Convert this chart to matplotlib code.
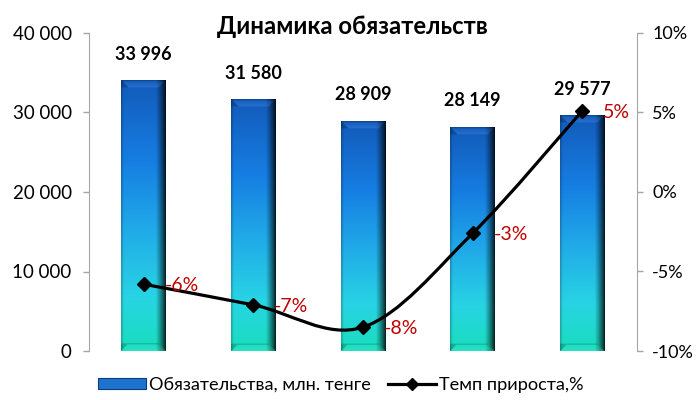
import numpy as np
import matplotlib
matplotlib.use("Agg")
import matplotlib.pyplot as plt
from matplotlib.path import Path
from matplotlib.patches import PathPatch, Patch
from matplotlib.lines import Line2D

plt.rcParams['font.family'] = ['Lato', 'DejaVu Sans']

title = "Динамика обязательств"
categories = ["1", "2", "3", "4", "5"]
liabilities = [33996, 31580, 28909, 28149, 29577]
growth = [-5.8, -7.1, -8.5, -2.6, 5.1]
growth_labels = ["-6%", "-7%", "-8%", "-3%", "5%"]
left_ticks = [0, 10000, 20000, 30000, 40000]
right_ticks = [-10, -5, 0, 5, 10]
legend_labels = ["Обязательства, млн. тенге", "Темп прироста,%"]

W_PX, H_PX = 696, 400
fig = plt.figure(figsize=(W_PX / 100, H_PX / 100), dpi=100)
ax_l, ax_r, ax_b, ax_t = 89, 637, 351, 33
ax = fig.add_axes([ax_l / W_PX, 1 - ax_b / H_PX, (ax_r - ax_l) / W_PX, (ax_b - ax_t) / H_PX])
ax2 = ax.twinx()

bar_w = 0.41
ymax = 40000
axis_h_px = ax_b - ax_t
cat_px = (ax_r - ax_l) / len(categories)


def bar_image(hpx, wpx, ss=3):
    H = max(int(round(hpx * ss)), 2)
    W = max(int(round(wpx * ss)), 2)
    yy, xx = np.mgrid[0:H, 0:W]
    py = (yy + 0.5) / ss
    px = (xx + 0.5) / ss
    pr = wpx - px
    pb = hpx - py
    t = py / hpx
    st = [0.0, 0.3, 0.55, 0.8, 1.0]
    cs = np.array([[18, 90, 185], [22, 126, 226], [32, 170, 232],
                   [40, 212, 228], [24, 222, 188]]) / 255.0
    base = np.stack([np.interp(t, st, cs[:, k]) for k in range(3)], -1)
    shade = np.clip(0.75 + 0.25 * px / 3.0, 0, 1)
    shade = shade * (0.1 + 0.9 * np.clip(pr / 10.0, 0, 1) ** 0.8)
    img = base * shade[..., None]
    b = 7.5
    # top bevel
    top = py < b
    face = top & (px > py) & (pr > py)
    f = np.clip(py / b, 0, 1)[..., None]
    light = np.array([0.32, 0.58, 0.92])
    mix = img * (1 - 0.35 * f) + light * 0.35 * f
    img = np.where(face[..., None], mix, img)
    lt = top & (px <= py)
    img[lt] = img[lt] * 0.8
    topline = py < 1.2
    img[topline] = img[topline] * 0.8
    # bottom bevel
    bot = pb < b
    bface = bot & (px > pb) & (pr > pb)
    g = np.clip(1 - pb / b, 0, 1)[..., None]
    lightb = np.array([0.35, 0.92, 0.82])
    mixb = img * (1 - 0.3 * g) + lightb * 0.3 * g
    img = np.where(bface[..., None], mixb, img)
    edge = bot & (np.abs(pb - b) < 1.0) & (px > pb) & (pr > pb)
    img[edge] = img[edge] * 0.78
    lb = bot & (px <= pb)
    img[lb] = img[lb] * 0.8
    return np.clip(img, 0, 1)


x = np.arange(len(categories))
for xi, v in zip(x, liabilities):
    hpx = v / ymax * axis_h_px
    wpx = bar_w * cat_px
    ax.imshow(bar_image(hpx, wpx), extent=(xi - bar_w / 2, xi + bar_w / 2, 0, v),
              aspect='auto', origin='upper', interpolation='bilinear', zorder=2)
    ax.annotate(f"{v:,}".replace(",", " "), (xi, v), xytext=(0, 19),
                textcoords='offset points', ha='center', va='center',
                fontsize=13, fontweight='bold', color='black')

ax.set_xlim(-0.5, len(categories) - 0.5)
ax.set_ylim(0, ymax)
ax.set_yticks(left_ticks)
ax.set_yticklabels([f"{t:,}".replace(",", " ") for t in left_ticks])
ax.set_xticks([])

ax2.set_ylim(-10, 10)
ax2.set_yticks(right_ticks)
ax2.set_yticklabels([f"{t}%" for t in right_ticks])

for a in (ax, ax2):
    for s in ('top', 'bottom'):
        a.spines[s].set_visible(False)
ax.tick_params(axis='y', length=4, width=1, color='#a6a6a6', labelsize=13.5, pad=8.5)
ax2.tick_params(axis='y', length=4, width=1, color='#a6a6a6', labelsize=13, pad=7)
ax.spines['left'].set_color('#a6a6a6')
ax.spines['right'].set_visible(False)
ax2.spines['right'].set_color('#a6a6a6')
ax2.spines['left'].set_visible(False)

# smoothed line (Catmull-Rom -> cubic Bezier)
P = np.column_stack([x, growth]).astype(float)
n = len(P)
verts = [tuple(P[0])]
codes = [Path.MOVETO]
for i in range(n - 1):
    p0 = P[max(i - 1, 0)]
    p1 = P[i]
    p2 = P[i + 1]
    p3 = P[min(i + 2, n - 1)]
    c1 = p1 + (p2 - p0) / 6.0
    c2 = p2 - (p3 - p1) / 6.0
    verts += [tuple(c1), tuple(c2), tuple(p2)]
    codes += [Path.CURVE4] * 3
ax2.add_patch(PathPatch(Path(verts, codes), fill=False, edgecolor='black', lw=2.3, zorder=3))
ax2.plot(x, growth, linestyle='none', marker='D', color='black', markersize=7, zorder=4)
for xi, g, lab in zip(x, growth, growth_labels):
    ax2.annotate(lab, (xi, g), xytext=(15, -1), textcoords='offset points',
                 ha='left', va='center', fontsize=14, color='#c00000')

fig.text(352 / W_PX, 1 - 27 / H_PX, title, ha='center', va='center',
         fontsize=17.2, fontweight='bold')

handles = [Patch(facecolor='#1d74d0', edgecolor='#0b3d78', lw=0.8),
           Line2D([], [], color='black', lw=2.3, marker='D', markersize=6)]
fig.legend(handles, legend_labels, loc='center', bbox_to_anchor=(341 / W_PX, 1 - 385 / H_PX),
           ncol=2, frameon=False, fontsize=13.1, handlelength=2.64, handleheight=0.55,
           handletextpad=0.16, columnspacing=0.93, borderaxespad=0)

fig.savefig("out.png", dpi=100, facecolor='white')
